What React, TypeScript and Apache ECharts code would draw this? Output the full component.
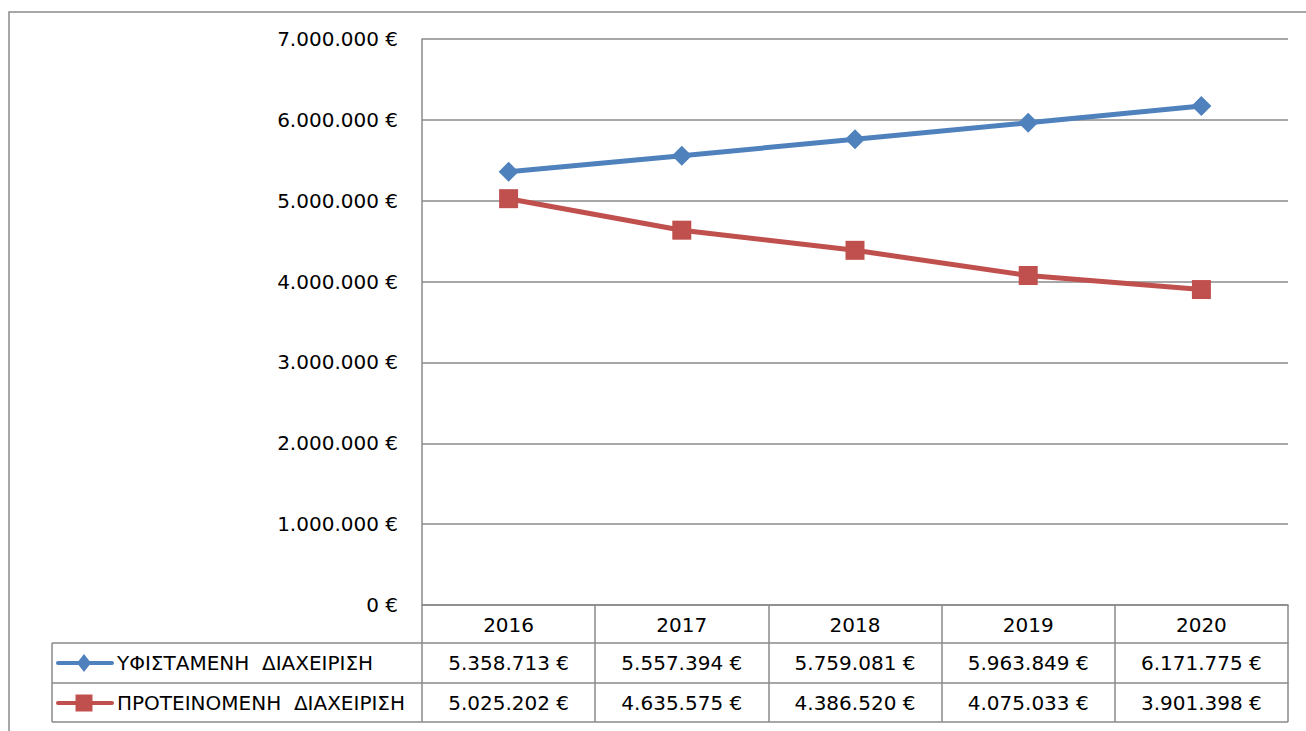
import React, { useEffect, useRef } from "react";
import * as echarts from "echarts";

const years = ["2016", "2017", "2018", "2019", "2020"];
const seriesNames = ["ΥΦΙΣΤΑΜΕΝΗ  ΔΙΑΧΕΙΡΙΣΗ", "ΠΡΟΤΕΙΝΟΜΕΝΗ  ΔΙΑΧΕΙΡΙΣΗ"];
const existing = [5358713, 5557394, 5759081, 5963849, 6171775];
const proposed = [5025202, 4635575, 4386520, 4075033, 3901398];
const yMin = 0;
const yMax = 7000000;
const yStep = 1000000;

const FONT = "'DejaVu Sans', 'Noto Sans', sans-serif";
const GRID = "#8a8a8a";
const BLUE = "#4F81BD";
const RED = "#C0504D";

function fmt(n: number): string {
  return String(n).replace(/\B(?=(\d{3})+(?!\d))/g, ".") + " €";
}

export default function App() {
  const ref = useRef<HTMLDivElement>(null);
  useEffect(() => {
    if (!ref.current) return;
    const chart = echarts.init(ref.current, null, { renderer: "svg" });
    const tableAxis = (offset: number, tickLen: number, formatter: any) => ({
      type: "category",
      data: years,
      position: "bottom",
      offset,
      boundaryGap: true,
      axisLine: { show: true, lineStyle: { color: GRID, width: 1.5 } },
      axisTick: { show: true, interval: 0, alignWithLabel: false, length: tickLen, lineStyle: { color: GRID, width: 1.5 } },
      axisLabel: { show: true, interval: 0, margin: 10, color: "#000", fontSize: 20, fontFamily: FONT, formatter },
      splitLine: { show: false },
    });
    const lineStyle = { stroke: GRID, lineWidth: 1.5 };
    chart.setOption({
      animation: false,
      backgroundColor: "#fff",
      grid: { left: 422, right: 18, top: 39, bottom: 126, containLabel: false },
      xAxis: [
        tableAxis(0, 38, (v: string) => v),
        tableAxis(38, 40, (_v: string, i: number) => fmt(existing[i])),
        tableAxis(78, 39, (_v: string, i: number) => fmt(proposed[i])),
      ],
      yAxis: {
        type: "value",
        min: yMin,
        max: yMax,
        interval: yStep,
        axisLine: { show: true, lineStyle: { color: GRID, width: 1.5 } },
        axisTick: { show: false },
        axisLabel: { color: "#000", fontSize: 20, fontFamily: FONT, margin: 24, formatter: (v: number) => fmt(v) },
        splitLine: { show: true, lineStyle: { color: GRID, width: 1.5 } },
      },
      series: [
        {
          name: seriesNames[0],
          type: "line",
          data: existing,
          xAxisIndex: 0,
          symbol: "diamond",
          symbolSize: 20,
          lineStyle: { color: BLUE, width: 5 },
          itemStyle: { color: BLUE },
        },
        {
          name: seriesNames[1],
          type: "line",
          data: proposed,
          xAxisIndex: 0,
          symbol: "rect",
          symbolSize: 19,
          lineStyle: { color: RED, width: 5 },
          itemStyle: { color: RED },
        },
      ],
      graphic: [
        { type: "rect", shape: { x: 9, y: 12, width: 1400, height: 800 }, style: { fill: "none", stroke: GRID, lineWidth: 1.5 }, silent: true, z: -1 },
        { type: "line", shape: { x1: 52, y1: 643, x2: 422, y2: 643 }, style: lineStyle },
        { type: "line", shape: { x1: 52, y1: 683, x2: 422, y2: 683 }, style: lineStyle },
        { type: "line", shape: { x1: 52, y1: 722, x2: 1288, y2: 722 }, style: lineStyle },
        { type: "line", shape: { x1: 52, y1: 643, x2: 52, y2: 722 }, style: lineStyle },
        // legend keys
        { type: "line", shape: { x1: 58, y1: 663, x2: 112, y2: 663 }, style: { stroke: BLUE, lineWidth: 4, lineCap: "round" } },
        { type: "polygon", shape: { points: [[84, 654], [91, 663], [84, 672], [77, 663]] }, style: { fill: BLUE } },
        { type: "text", x: 117, y: 663, style: { text: seriesNames[0], fill: "#000", fontSize: 20, fontFamily: FONT, verticalAlign: "middle", align: "left" } },
        { type: "line", shape: { x1: 58, y1: 703, x2: 112, y2: 703 }, style: { stroke: RED, lineWidth: 4, lineCap: "round" } },
        { type: "rect", shape: { x: 75.5, y: 694.5, width: 17, height: 17 }, style: { fill: RED } },
        { type: "text", x: 117, y: 703, style: { text: seriesNames[1], fill: "#000", fontSize: 20, fontFamily: FONT, verticalAlign: "middle", align: "left" } },
      ],
    });
    return () => chart.dispose();
  }, []);
  return <div ref={ref} style={{ position: "absolute", left: 0, top: 0, width: 1306, height: 731 }} />;
}
